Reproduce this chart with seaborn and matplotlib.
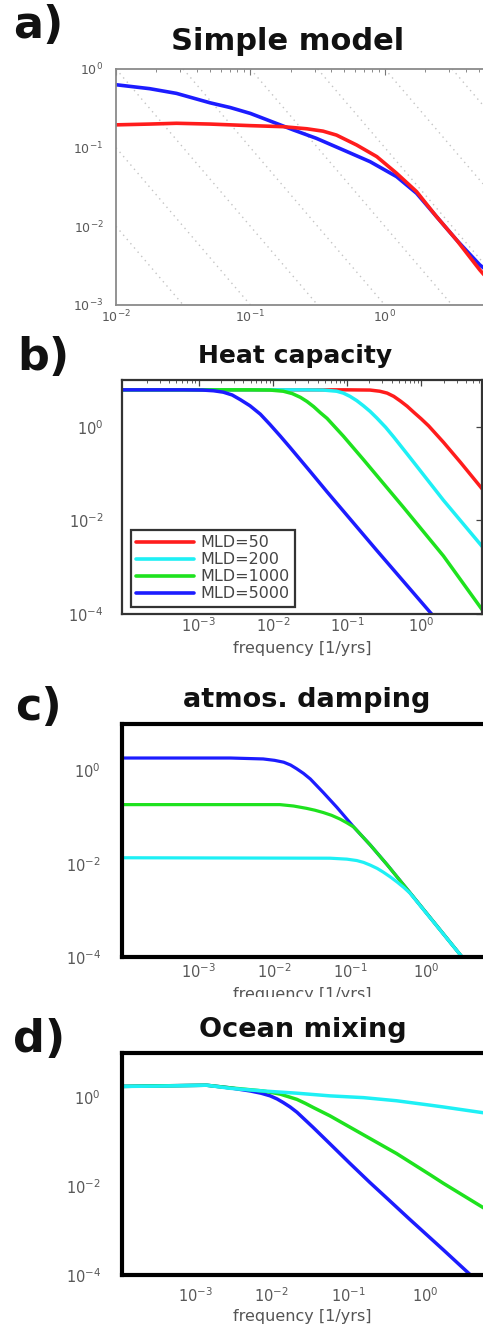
import numpy as np
import pandas as pd
import matplotlib
matplotlib.use("Agg")
import matplotlib.pyplot as plt
from matplotlib.patches import Rectangle
import seaborn as sns

# ---------------- data: log10 values ----------------
# panel a) Simple model
a_red_logf = [-2.0, -1.75, -1.55, -1.30, -1.00, -0.76, -0.58, -0.46, -0.36, -0.21, -0.06,
              0.087, 0.236, 0.384, 0.533, 0.706, 0.75]
a_red_logS = [-0.71, -0.70, -0.69, -0.70, -0.72, -0.733, -0.76, -0.79, -0.84, -0.966, -1.114,
              -1.325, -1.559, -1.876, -2.173, -2.554, -2.64]
a_blue_logf = [-2.0, -1.75, -1.55, -1.30, -1.15, -1.00, -0.855, -0.68, -0.51, -0.31, -0.11,
               0.087, 0.236, 0.384, 0.533, 0.706, 0.75]
a_blue_logS = [-0.20, -0.25, -0.31, -0.43, -0.49, -0.565, -0.66, -0.775, -0.881, -1.029, -1.178,
               -1.368, -1.58, -1.876, -2.173, -2.49, -2.55]
a_guide_exponents = [-7, -6, -5, -4, -3, -2, -1, 0, 1]

# panel b) Heat capacity
mld_labels = ["MLD=50", "MLD=200", "MLD=1000", "MLD=5000"]
b_red_logf = [-4.1, -1.0, -0.69, -0.56, -0.46, -0.37, -0.28, -0.19, -0.10, 0.00, 0.10,
              0.30, 0.53, 0.85]
b_red_logS = [0.79, 0.79, 0.785, 0.76, 0.72, 0.65, 0.55, 0.44, 0.31, 0.17, 0.02,
              -0.33, -0.76, -1.38]
b_cyan_logf = [-4.1, -1.6, -1.32, -1.14, -1.05, -0.96, -0.87, -0.78, -0.69, -0.60, -0.48,
               -0.37, -0.15, 0.30, 0.85]
b_cyan_logS = [0.79, 0.79, 0.785, 0.76, 0.72, 0.65, 0.56, 0.45, 0.33, 0.19, -0.01,
               -0.22, -0.66, -1.57, -2.61]
b_green_logf = [-4.1, -2.3, -2.04, -1.86, -1.74, -1.63, -1.54, -1.45, -1.36, -1.27, -1.16,
                -1.05, -0.78, -0.24, 0.30, 0.85]
b_green_logS = [0.79, 0.79, 0.785, 0.76, 0.71, 0.63, 0.54, 0.43, 0.30, 0.18, -0.01,
                -0.20, -0.70, -1.72, -2.76, -3.97]
b_blue_logf = [-4.1, -3.2, -2.95, -2.80, -2.67, -2.55, -2.44, -2.31, -2.17, -2.04, -1.90,
               -1.77, -1.50, -1.27, -0.60, 0.14, 0.30]
b_blue_logS = [0.79, 0.79, 0.785, 0.77, 0.74, 0.68, 0.58, 0.45, 0.27, 0.05, -0.20,
               -0.44, -0.95, -1.39, -2.64, -4.00, -4.32]

# panel c) atmos. damping
c_blue_logf = [-4.1, -2.58, -2.15, -2.00, -1.88, -1.79, -1.71, -1.62, -1.53, -1.36, -1.18,
               -0.96, -0.74, -0.52, -0.22, 0.48, 0.60]
c_blue_logS = [0.27, 0.27, 0.25, 0.22, 0.18, 0.12, 0.04, -0.06, -0.18, -0.47, -0.79,
               -1.21, -1.60, -2.02, -2.62, -4.03, -4.30]
c_green_logf = [-4.1, -1.93, -1.75, -1.58, -1.47, -1.36, -1.25, -1.14, -1.05, -0.96, -0.74,
                -0.52, -0.22, 0.48, 0.60]
c_green_logS = [-0.73, -0.73, -0.76, -0.81, -0.85, -0.90, -0.96, -1.04, -1.12, -1.21, -1.60,
                -2.02, -2.62, -4.03, -4.30]
c_cyan_logf = [-4.1, -1.27, -1.05, -0.92, -0.83, -0.74, -0.65, -0.57, -0.48, -0.39, -0.30,
               -0.22, 0.48, 0.60]
c_cyan_logS = [-1.87, -1.88, -1.90, -1.93, -1.97, -2.03, -2.10, -2.18, -2.28, -2.39, -2.51,
               -2.63, -4.03, -4.30]

# panel d) Ocean mixing
d_cyan_logf = [-4.1, -3.5, -2.85, -2.54, -2.11, -1.67, -1.24, -0.80, -0.37, 0.07, 0.24, 0.80]
d_cyan_logS = [0.25, 0.26, 0.28, 0.21, 0.15, 0.10, 0.04, 0.00, -0.07, -0.17, -0.21, -0.35]
d_green_logf = [-4.1, -2.85, -2.54, -2.11, -1.89, -1.78, -1.67, -1.56, -1.46, -1.24, -0.80,
                -0.37, 0.07, 0.24, 0.80]
d_green_logS = [0.25, 0.28, 0.22, 0.15, 0.08, 0.02, -0.04, -0.13, -0.22, -0.41, -0.84,
                -1.26, -1.74, -1.93, -2.52]
d_blue_logf = [-4.1, -2.85, -2.54, -2.28, -2.14, -2.02, -1.93, -1.85, -1.76, -1.67, -1.46,
               -1.24, -0.98, -0.72, -0.50, -0.20, 0.24, 0.61, 0.70]
d_blue_logS = [0.25, 0.28, 0.22, 0.15, 0.10, 0.04, -0.03, -0.11, -0.21, -0.33, -0.67,
               -1.04, -1.48, -1.91, -2.26, -2.74, -3.43, -4.02, -4.17]

titles = ["Simple model", "Heat capacity", "atmos. damping", "Ocean mixing"]
panel_tags = ["a)", "b)", "c)", "d)"]
xlabel_text = "frequency [1/yrs]"

RED, CYAN, GREEN, BLUE = "#ff1c1c", "#1ef0f5", "#1ee21e", "#1c1cff"

# ---------------- figure ----------------
sns.set_theme(style="white")
plt.rcParams["font.family"] = ["DejaVu Sans"]
plt.rcParams["mathtext.fontset"] = "dejavusans"

W, H = 483, 1325
fig = plt.figure(figsize=(W / 100, H / 100), dpi=100)
fig.patch.set_facecolor("white")


def box(left, top, right, bottom):
    return [left / W, 1 - bottom / H, (right - left) / W, (bottom - top) / H]


def frame(curves):
    parts = []
    for name, lf, ls in curves:
        parts.append(pd.DataFrame({"f": 10.0 ** np.array(lf), "S": 10.0 ** np.array(ls), "curve": name}))
    return pd.concat(parts, ignore_index=True)


TICK_C = "#585858"

ax_a = fig.add_axes(box(116, 69, 483, 305))
ax_b = fig.add_axes(box(121.7, 380, 482, 614))
ax_c = fig.add_axes(box(121.7, 724, 483, 957))
ax_d = fig.add_axes(box(121.7, 1053.3, 483, 1275))

for ax in (ax_a, ax_b, ax_c, ax_d):
    ax.set_xscale("log")
    ax.set_yscale("log")
    ax.set_facecolor("white")

# ---- a)
for k in a_guide_exponents:
    ax_a.axline((1.0, 10.0 ** k), (10.0, 10.0 ** (k - 2)), color="#c4c4c4", lw=1.0,
                ls=(0, (1, 3)), zorder=0.5)
df_a = frame([("blue", a_blue_logf, a_blue_logS), ("red", a_red_logf, a_red_logS)])
sns.lineplot(data=df_a, x="f", y="S", hue="curve", hue_order=["blue", "red"],
             palette={"blue": BLUE, "red": RED}, lw=2.6, estimator=None, legend=False, ax=ax_a)
ax_a.set_xlim(1e-2, 10 ** 0.73)
ax_a.set_ylim(1e-3, 1e0)
ax_a.set_xticks([1e-2, 1e-1, 1e0])
ax_a.set_yticks([1e-3, 1e-2, 1e-1, 1e0])

# ---- b)
df_b = frame([(mld_labels[0], b_red_logf, b_red_logS), (mld_labels[1], b_cyan_logf, b_cyan_logS),
              (mld_labels[2], b_green_logf, b_green_logS), (mld_labels[3], b_blue_logf, b_blue_logS)])
sns.lineplot(data=df_b, x="f", y="S", hue="curve", hue_order=mld_labels,
             palette=dict(zip(mld_labels, [RED, CYAN, GREEN, BLUE])), lw=2.5,
             estimator=None, legend=True, ax=ax_b)
ax_b.set_xlim(10 ** -4.04, 10 ** 0.82)
ax_b.set_ylim(1e-4, 1e1)

# ---- c)
df_c = frame([("blue", c_blue_logf, c_blue_logS), ("green", c_green_logf, c_green_logS),
              ("cyan", c_cyan_logf, c_cyan_logS)])
sns.lineplot(data=df_c, x="f", y="S", hue="curve", hue_order=["blue", "green", "cyan"],
             palette={"blue": BLUE, "green": GREEN, "cyan": CYAN}, lw=2.3,
             estimator=None, legend=False, ax=ax_c)
ax_c.set_xlim(10 ** -4.01, 10 ** 0.74)
ax_c.set_ylim(1e-4, 1e1)

# ---- d)
df_d = frame([("blue", d_blue_logf, d_blue_logS), ("green", d_green_logf, d_green_logS),
              ("cyan", d_cyan_logf, d_cyan_logS)])
sns.lineplot(data=df_d, x="f", y="S", hue="curve", hue_order=["blue", "green", "cyan"],
             palette={"blue": BLUE, "green": GREEN, "cyan": CYAN}, lw=2.5,
             estimator=None, legend=False, ax=ax_d)
ax_d.set_xlim(10 ** -3.96, 10 ** 0.76)
ax_d.set_ylim(1e-4, 1e1)

for ax in (ax_b, ax_c, ax_d):
    ax.set_xticks([1e-3, 1e-2, 1e-1, 1e0])
    ax.set_yticks([1e-4, 1e-2, 1e0])

# ---- axis styling
ax_a.tick_params(which="both", direction="in", top=True, right=False, color="#777777",
                 labelcolor=TICK_C, labelsize=9)
ax_a.tick_params(which="major", length=4, width=0.8)
ax_a.tick_params(which="minor", length=2, width=0.6)
ax_a.tick_params(axis="y", pad=9)
ax_a.tick_params(axis="x", pad=3)
for s in ("left", "top", "bottom"):
    ax_a.spines[s].set_color("#8a8a8a")
    ax_a.spines[s].set_linewidth(1.3)
ax_a.spines["right"].set_visible(False)

ax_b.tick_params(which="both", direction="in", top=True, right=True, color="#444444",
                 labelcolor=TICK_C, labelsize=10.5)
ax_b.tick_params(which="major", length=4, width=0.9)
ax_b.tick_params(which="minor", length=2, width=0.6)
ax_b.tick_params(axis="y", which="minor", left=False, right=False)
ax_b.tick_params(axis="y", pad=13)
ax_b.tick_params(axis="x", pad=2)
for s in ax_b.spines.values():
    s.set_color("#333333")
    s.set_linewidth(1.6)

for ax, xp in ((ax_c, 4), (ax_d, 8)):
    ax.tick_params(which="both", direction="in", top=False, right=False, color="black",
                   labelcolor=TICK_C, labelsize=10.5)
    ax.tick_params(which="major", length=4, width=1)
    ax.tick_params(which="minor", bottom=False, left=False)
    ax.tick_params(axis="y", pad=15)
    ax.tick_params(axis="x", pad=xp)
    for s in ("left", "top", "bottom"):
        ax.spines[s].set_color("black")
        ax.spines[s].set_linewidth(3)
    ax.spines["right"].set_visible(False)

for ax in (ax_a, ax_b, ax_c, ax_d):
    ax.set_ylabel("")
    ax.set_xlabel("")
ax_b.set_xlabel(xlabel_text, fontsize=11.5, color="#555555", labelpad=4)
ax_c.set_xlabel(xlabel_text, fontsize=11.5, color="#555555", labelpad=4)
ax_d.set_xlabel(xlabel_text, fontsize=11.5, color="#555555", labelpad=3)

# ---- legend
sns.move_legend(ax_b, loc="lower left", bbox_to_anchor=(0.025, 0.031), borderaxespad=0,
                title=None, frameon=True, fontsize=11.5, handlelength=3.6,
                handletextpad=0.4, labelspacing=0.12, borderpad=0.35, fancybox=False,
                edgecolor="#333333", framealpha=1)
leg = ax_b.get_legend()
leg.get_frame().set_linewidth(1.6)
for t in leg.get_texts():
    t.set_color("#444444")
for h in leg.legend_handles:
    h.set_linewidth(2.6)

# ---- stacking (lower panels cover the bottom of the one above, as in the source)
ax_a.set_zorder(0)
ax_b.set_zorder(2)
ax_c.set_zorder(2)
ax_d.set_zorder(4)
fig.add_artist(Rectangle((0, 0), 1, 1 - 327 / H, transform=fig.transFigure,
                         facecolor="white", edgecolor="none", zorder=1))
fig.add_artist(Rectangle((0, 0), 1, 1 - 997 / H, transform=fig.transFigure,
                         facecolor="white", edgecolor="none", zorder=3))

# ---- titles and panel tags
title_pos = [(288, 50, 22), (295.5, 362.7, 18), (307, 706.7, 19.5), (302.5, 1036.7, 19.5)]
tag_pos = [(13, 38.3), (17, 370), (15, 720), (13, 1051.7)]
for txt, (x, y, fs) in zip(titles, title_pos):
    fig.text(x / W, 1 - y / H, txt, ha="center", va="baseline", fontsize=fs,
             fontweight="bold", color="#111111", zorder=6)
for txt, (x, y) in zip(panel_tags, tag_pos):
    fig.text(x / W, 1 - y / H, txt, ha="left", va="baseline", fontsize=32,
             fontweight="bold", color="#111111", zorder=6)

fig.savefig("out.png", dpi=100, facecolor="white")
